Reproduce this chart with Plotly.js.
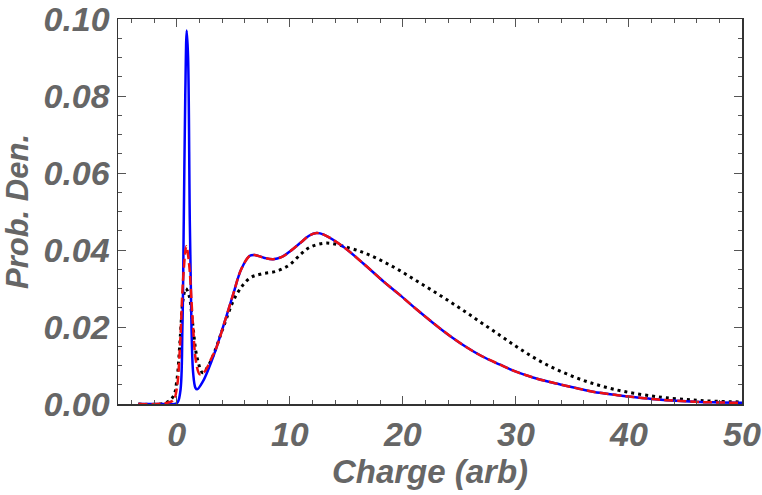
<!DOCTYPE html>
<html><head><meta charset="utf-8">
<script src="https://cdn.plot.ly/plotly-3.0.1.min.js"></script>
<style>html,body{margin:0;padding:0;background:#fff}#plot{width:762px;height:495px}</style>
</head><body><div id="plot"></div>
<script>
// Blue solid curve
var blueX = [-3.4,-1.0,0.0,0.3,0.5,0.62,0.75,0.88,1.0,1.15,1.3,1.45,1.65,1.8,2.3,2.9,3.5,4.2,4.98,5.7,6.46,6.9,7.7,8.52,9.3,10,11,11.7,12.36,13.0,14.7,16.5,18.26,19.7,21.2,22.7,24.2,25.6,27,28.6,30,31.5,33,34.5,36,37.4,39,40.4,42,43.3,45,46.3,48,50];
var blueY = [0,0,0.0002,0.003,0.02,0.048,0.08,0.097,0.09,0.048,0.02,0.008,0.0042,0.0038,0.0058,0.0098,0.0146,0.021,0.0284,0.035,0.0385,0.0387,0.0380,0.0376,0.0382,0.0396,0.042,0.0437,0.0444,0.0440,0.0409,0.0365,0.0319,0.0284,0.0246,0.0210,0.0176,0.0148,0.0124,0.0102,0.0084,0.0069,0.0057,0.0047,0.0037,0.0029,0.0023,0.0018,0.0013,0.0010,0.0007,0.0005,0.0004,0.0003];
// Red dashed curve
var redX = [-3.4,-1.0,-0.3,0.0,0.3,0.55,0.85,1.1,1.4,1.7,2.0,2.2,2.6,3.0,3.5,4.2,4.98,5.7,6.46,6.9,7.7,8.52,9.3,10,11,11.7,12.36,13.0,14.7,16.5,18.26,19.7,21.2,22.7,24.2,25.6,27,28.6,30,31.5,33,34.5,36,37.4,39,40.4,42,43.3,45,46.3,48,50];
var redY = [0,0.0002,0.001,0.004,0.016,0.032,0.041,0.036,0.022,0.011,0.0078,0.0077,0.009,0.0115,0.0146,0.021,0.0284,0.035,0.0385,0.0387,0.0380,0.0376,0.0382,0.0396,0.042,0.0437,0.0444,0.0440,0.0409,0.0365,0.0319,0.0284,0.0246,0.0210,0.0176,0.0148,0.0124,0.0102,0.0084,0.0069,0.0057,0.0047,0.0037,0.0029,0.0023,0.0018,0.0013,0.0010,0.0007,0.0005,0.0004,0.0003];
// Black dotted curve
var blackX = [-3.4,-1.0,-0.3,0.0,0.3,0.55,0.8,1.1,1.4,1.8,2.3,2.8,3.4,4.1,5.28,6.46,7.5,8.82,10,11,11.77,13.25,15.3,16.8,18.26,19.7,21.2,22.7,24.2,25.6,27,28.6,30,31.5,33,34.5,36,37.4,39,40.4,42,43.3,45,46.3,48,50];
var blackY = [0,0.0003,0.002,0.006,0.017,0.027,0.030,0.028,0.021,0.012,0.0081,0.010,0.014,0.0198,0.0284,0.0327,0.0338,0.0345,0.0362,0.039,0.0407,0.0418,0.0405,0.0390,0.0370,0.0347,0.0320,0.0293,0.0265,0.0238,0.0210,0.0178,0.0150,0.0122,0.0098,0.0078,0.0061,0.0048,0.0036,0.0028,0.0021,0.0016,0.0012,0.0009,0.0007,0.0005];

var font = {family:'"Liberation Sans",Arial,sans-serif', weight:'bold', style:'italic', color:'#666666'};

var traces = [
  {x:blackX, y:blackY, mode:'lines', line:{color:'#000000', width:3, dash:'3px,4px', shape:'spline', smoothing:1}},
  {x:blueX, y:blueY, mode:'lines', line:{color:'#0000ff', width:2.5, shape:'spline', smoothing:1}},
  {x:redX, y:redY, mode:'lines', line:{color:'#ee1111', width:2.5, dash:'9px,4px', shape:'spline', smoothing:1}}
];

var axisCommon = {showgrid:false, zeroline:false, showline:true, linecolor:'#333333', linewidth:1.5, mirror:'ticks', ticks:'inside', ticklen:8, tickcolor:'#555555', tickwidth:1, ticklabeloverflow:'allow'};

var layout = {
  width:762, height:495,
  margin:{l:118, r:20, t:19, b:91},
  paper_bgcolor:'#ffffff', plot_bgcolor:'#ffffff',
  showlegend:false,
  xaxis: Object.assign({}, axisCommon, {
    range:[-5.2,50], tickmode:'linear', tick0:0, dtick:10,
    minor:{dtick:2, tick0:0, ticks:'inside', ticklen:4, tickcolor:'#555555'},
    tickfont:Object.assign({size:34}, font),
    title:{text:'Charge (arb)', font:Object.assign({size:33}, font), standoff:6}
  }),
  yaxis: Object.assign({}, axisCommon, {
    range:[0,0.1], tickmode:'linear', tick0:0, dtick:0.02, tickformat:'.2f',
    minor:{dtick:0.005, tick0:0, ticks:'inside', ticklen:4, tickcolor:'#555555'},
    tickfont:Object.assign({size:34}, font),
    title:{text:'Prob. Den.', font:Object.assign({size:31}, font), standoff:5}
  })
};

Plotly.newPlot('plot', traces, layout, {displayModeBar:false, staticPlot:true});
</script></body></html>
